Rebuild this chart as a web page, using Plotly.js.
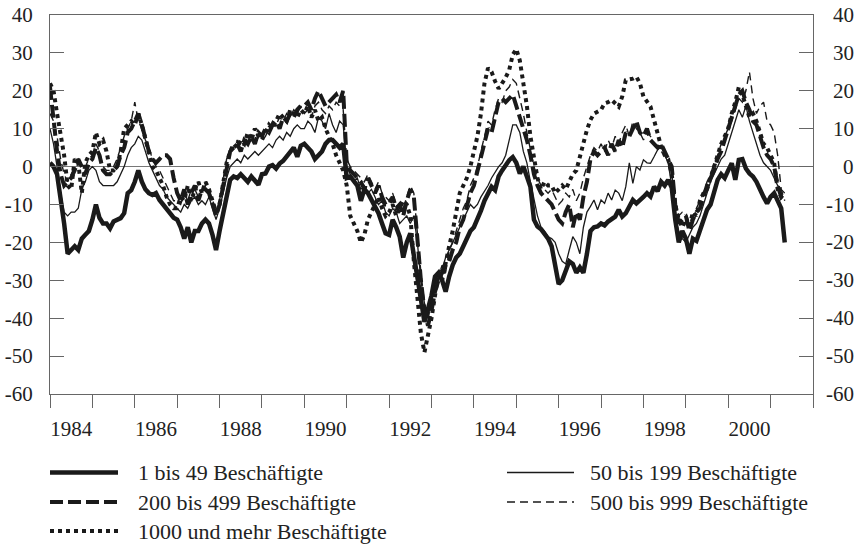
<!DOCTYPE html>
<html><head><meta charset="utf-8">
<script src="https://cdn.plot.ly/plotly-3.0.1.min.js"></script>
<style>html,body{margin:0;padding:0;background:#fff}</style>
</head><body><div id="chart" style="width:860px;height:545px"></div>
<script>
// Monthly values, January 1984 to May 2001
const startYear = 1984;
const seriesNames = ["1 bis 49 Beschäftigte", "50 bis 199 Beschäftigte", "200 bis 499 Beschäftigte", "500 bis 999 Beschäftigte", "1000 und mehr Beschäftigte"];

const s1 = [
 1, 0, -2, -8, -15, -23, -22, -21, -22, -19, -18, -17,
 -14, -10, -13.5, -15, -15, -16.3, -14.5, -14, -13.6, -12.3, -7, -6.2,
 -4, -1, -4, -6, -7, -7.5, -7, -8.8, -10, -11.4, -12.5, -13.5,
 -14, -16, -19, -16, -20, -17, -17, -15, -14, -15, -18, -22,
 -17, -12, -7, -3.5, -2.6, -3, -2, -3, -4, -2.6, -3.5, -4.8,
 -2, -1.8, 0, 0.4, -0.5, 0.8, 1.5, 2.6, 3.5, 5, 2.6, 5.5,
 6, 5, 4, 2, 3, 4, 6, 7, 7, 6, 5, 6,
 -3, -2.6, -4, -5, -9, -6, -7, -8.8, -11, -12.3, -15, -17.6,
 -18, -14, -16, -18.5, -24, -20, -17.6, -23, -28, -35, -41, -38,
 -34, -29, -28, -30, -33, -29, -26, -24, -23, -21, -19, -17,
 -16, -14, -11.6, -9, -7, -5.3, -6.2, -2.6, -1, 0.5, 1.7, 2.5,
 1, -1.8, 0, -2.6, -5.3, -14, -15.8, -16.5, -17.6, -19, -21, -26,
 -31, -30, -27, -25, -25.7, -28, -26.6, -28, -23, -17, -16, -15.8,
 -15, -15.5, -14.5, -14, -13.2, -11.4, -13.2, -12.3, -10.5, -8.8, -9.7, -9,
 -8, -7, -7.9, -5.3, -6.5, -4, -5, -3.5, -5.5, -14, -20, -17,
 -19, -23, -19, -19.6, -17, -14, -11.4, -10, -7, -3.5, -2, -3,
 -1, 0.9, -3.5, 1.8, 2, -0.5, -1.8, -2.6, -4, -6.2, -8, -9.7,
 -8, -7, -8.8, -11, -20
];
const s2 = [
 10, 6, 0, -7, -12, -13, -12, -12, -11, -6, -4, -1,
 0, -1, -4, -5, -5, -5, -5, -4, -2, 0, 3, 5,
 6, 8, 7, 4, 1, -1, -3, -5, -6, -8, -9, -10,
 -11, -12, -10, -11, -9, -8, -10, -9, -10, -8, -11, -14,
 -11, -7, -3, 0, 1, 2, 1, 3, 2, 3, 4, 3,
 4, 5, 6, 5, 7, 8, 7, 9, 8, 10, 11, 10,
 10, 12, 11, 9, 13, 12, 10, 14, 11, 9, 12, 11,
 0, -2, -4, -3, -6, -5, -7, -6, -8, -10, -9, -12,
 -13, -11, -12, -15, -14, -13, -15, -13, -20, -30, -36, -40,
 -35, -31, -28, -27, -24, -22, -20, -18, -16, -14, -12, -10,
 -11, -10, -8, -6.5, -5, -3, -1.5, 0, 1, 3, 7, 11,
 11, 9, 4, 1, -4, -9, -13, -16, -17, -18.5, -19, -20,
 -23, -25, -25.7, -22, -18.5, -20, -23, -16, -12, -10.5, -8.8, -11.4,
 -8.8, -9.7, -7, -8.8, -6.2, -7, -9, -5.3, 1, -4.4, 0, -0.9,
 1.8, 1, 0.9, 2.6, 4.4, 5.3, 3, 1, -5, -14, -17, -19,
 -20, -18, -16, -15, -13, -10, -7, -4, -2, 0, 2, 3,
 6, 9, 12, 15, 13, 16, 12, 9, 6, 3, 1, 0,
 -1, -3, -5, -6, -7
];
const s3 = [
 21, 12, 4, -2, -5, -4, -3, -1, 2, 0, -2, 1,
 2, 5, 3, -1, -2, -2, -1, 0, 3, 5, 9, 10,
 12, 14, 11, 7, 4, 2, 1, 2, 3, 3, 2, -3,
 -7, -9, -6, -10, -7, -5, -9, -6, -6, -7, -10, -13,
 -10, -5, 0, 4, 5, 6, 4, 7, 6, 8, 6, 9,
 8, 10, 9, 11, 12, 10, 13, 12, 14, 13, 15, 16,
 16, 17, 15, 18, 20, 18, 16, 17, 18, 19, 17, 20,
 1, -1, -2, -3, -4, -6, -3, -5, -7, -5, -8, -10,
 -10, -8, -11, -10, -13, -9, -6, -8, -20, -30, -38, -42,
 -38, -33, -30, -28, -26, -25, -22, -20, -16, -14, -10, -7,
 -5, -1, 3, 7, 10, 9, 13, 17, 18, 17, 18, 19,
 16, 13, 10, 7, 3, -2, -5, -7, -8, -9, -10, -12,
 -14, -15, -12, -10, -16, -12, -14, -8, -4, 2, 4, 3,
 4, 5, 3, 6, 4, 7, 5, 9, 8, 10, 12, 9,
 8, 10, 7, 6, 5, 6, 4, 2, 0, -10, -15, -14,
 -13, -17, -14, -12, -11, -8, -5, -3, -1, 2, 4, 7,
 10, 13, 16, 19, 20, 17, 15, 12, 11, 8, 5, 3,
 2, 0, -5, -8, -7
];
const s4 = [
 14, 12, 8, 2, -2, -4, -2, 0, 2, 1, 0, 2,
 3, 6, 4, 0, -1, -1, 0, 2, 5, 8, 10, 12,
 17, 12, 10, 7, 5, 2, 0, -1, -3, -5, -7, -9,
 -9, -10, -7, -9, -6, -6, -8, -6, -5, -6, -9, -11,
 -9, -3, 2, 4, 5, 7, 5, 6, 8, 7, 9, 8,
 9, 8, 10, 12, 11, 13, 12, 14, 13, 15, 14, 16,
 14, 15, 13, 16, 17, 15, 14, 16, 15, 17, 16, 15,
 2, 0, -1, -2, -3, -4, -2, -4, -6, -4, -7, -8,
 -9, -7, -10, -12, -11, -8, -5, -7, -18, -28, -36, -40,
 -36, -32, -29, -26, -28, -22, -20, -17, -14, -11, -9, -5,
 -3, 0, 4, 8, 12, 11, 15, 18, 17, 20, 21, 23,
 22, 18, 14, 9, 4, 0, -3, -5, -6, -7, -6, -8,
 -10, -9, -7, -8, -6, -9, -7, -3, 0, 3, 5, 4,
 6, 4, 7, 5, 8, 6, 9, 11, 8, 12, 10, 9,
 7, 9, 8, 6, 5, 4, 3, 1, -2, -9, -13, -12,
 -12, -15, -13, -11, -9, -7, -4, -2, 1, 3, 6, 8,
 10, 12, 15, 18, 17, 20, 25, 18, 14, 16, 17, 12,
 11, 9, 3, -6, -9
];
const s5 = [
 22, 20, 14, 8, 3, -5, -6, 2, 1, -7, 1, 3,
 4, 9, 6, 7, 4, -1, -1, 0, 4, 10, 11, 12,
 11, 14, 11, 7, 3, 0, -1, -3, -5, -8, -10, -11,
 -11, -8, -9, -5, -9, -6, -4, -7, -4, -6, -9, -12,
 -10, -4, 1, 4, 6, 5, 7, 6, 9, 7, 10, 8,
 7, 9, 11, 10, 12, 14, 13, 12, 15, 14, 13, 15,
 14, 16, 13, 15, 12, 13, 10, 8, 6, 3, 1, -1,
 -5, -13, -15, -17, -20, -18, -14, -12, -10, -8, -11, -13,
 -12, -10, -13, -11, -9, -10, -13, -25, -35, -44, -49, -45,
 -40, -34, -28, -30, -25, -21, -17, -12, -7, -5, -3, 0,
 3.5, 8, 14, 22, 26, 25, 22.5, 20.6, 22, 23.5, 25.5, 29.5,
 31, 28, 22, 16, 8, 2, -3, -6, -4, -5, -5, -7,
 -6, -5, -6, -4, -2, -1, 2.6, 6, 9.7, 12.3, 14, 14.5,
 15, 16.7, 17, 17.6, 16.7, 15.8, 18.5, 22.8, 23, 23.2, 23.7, 22,
 18.5, 17, 15.8, 12.3, 8.8, 5.3, 3, 2, -2, -10, -14, -16,
 -14, -16, -12, -13, -9, -7, -6, -3, 0, 3, 6, 8,
 10, 14, 17, 21, 19, 16, 13, 14, 12, 9, 6, 5,
 3, 1, -6, -8, -7
];

const yTicks = [40, 30, 20, 10, 0, -10, -20, -30, -40, -50, -60];
const yTickText = ["40", "30", "20", "10", "0", "-10", "-20", "-30", "-40", "-50", "-60"];
const yearTicks = [1984,1985,1986,1987,1988,1989,1990,1991,1992,1993,1994,1995,1996,1997,1998,1999,2000,2001,2002];
const yearLabels = ["1984","1986","1988","1990","1992","1994","1996","1998","2000"];

const months = s1.map((_, i) => startYear + i / 12);

const INK = '#1a1a1a';
const styles = [
  {width: 4.5, dash: 'solid'},
  {width: 1.3, dash: 'solid'},
  {width: 4, dash: '13px,5px'},
  {width: 1.4, dash: '8px,5px'},
  {width: 4, dash: '4px,4px'}
];
const allSeries = [s1, s2, s3, s4, s5];

const traces = allSeries.map((s, k) => ({
  type: 'scatter', mode: 'lines', name: seriesNames[k],
  x: months, y: s, xaxis: 'x', yaxis: 'y',
  line: {color: INK, width: styles[k].width, dash: styles[k].dash},
  showlegend: false, hoverinfo: 'skip'
}));
traces.push({type: 'scatter', x: [], y: [], xaxis: 'x2', yaxis: 'y', showlegend: false, hoverinfo: 'skip'});

const FONT = 'Liberation Serif';
const L = 50, R = 47, T = 15, B = 151, W = 860, H = 545;
const pw = W - L - R, ph = H - T - B;
const px2x = p => (p - L) / pw;
const py2y = p => (H - B - p) / ph;

const shapes = [];
const annotations = [];
yTicks.forEach((v, i) => annotations.push({
  xref: 'paper', yref: 'y', x: px2x(856), y: v, xanchor: 'right', yanchor: 'middle',
  text: yTickText[i], showarrow: false, font: {family: FONT, size: 21, color: '#222'}
}));
const legPos = [
  {x0: 50, x1: 118, tx: 136, y: 472.5},
  {x0: 507, x1: 574, tx: 588, y: 472.5},
  {x0: 50, x1: 118, tx: 136, y: 502},
  {x0: 507, x1: 574, tx: 588, y: 502},
  {x0: 50, x1: 118, tx: 136, y: 531}
];
seriesNames.forEach((nm, k) => {
  const p = legPos[k];
  shapes.push({type: 'line', xref: 'paper', yref: 'paper',
    x0: px2x(p.x0), x1: px2x(p.x1), y0: py2y(p.y), y1: py2y(p.y),
    line: {color: INK, width: styles[k].width, dash: styles[k].dash}});
  annotations.push({xref: 'paper', yref: 'paper', x: px2x(p.tx), y: py2y(p.y),
    xanchor: 'left', yanchor: 'middle', text: nm, showarrow: false,
    font: {family: FONT, size: 22, color: '#222'}});
});

const layout = {
  width: W, height: H,
  margin: {l: L, r: R, t: T, b: B, pad: 0},
  paper_bgcolor: '#fff', plot_bgcolor: '#fff',
  font: {family: FONT, size: 21, color: '#222'},
  showlegend: false,
  xaxis: {
    range: [1984, 2002], tickmode: 'array', tickvals: yearTicks,
    showticklabels: false, ticks: 'outside', ticklen: 13, tickwidth: 1, tickcolor: '#666',
    showline: true, linecolor: '#666', linewidth: 1, mirror: true,
    showgrid: false, zeroline: false
  },
  xaxis2: {
    overlaying: 'x', anchor: 'y', side: 'bottom', range: [1984, 2002],
    tickmode: 'array', tickvals: yearLabels.map(s => Number(s) + 0.5), ticktext: yearLabels,
    ticks: 'outside', ticklen: 16, tickcolor: 'rgba(0,0,0,0)',
    showline: false, showgrid: false, zeroline: false,
    tickfont: {family: FONT, size: 21, color: '#222'}
  },
  yaxis: {
    range: [-60, 40], tickmode: 'array', tickvals: yTicks, ticktext: yTickText,
    ticks: 'inside', ticklen: 14, tickwidth: 1, tickcolor: '#666',
    showline: true, linecolor: '#666', linewidth: 1, mirror: 'ticks',
    showgrid: false, zeroline: true, zerolinecolor: '#777', zerolinewidth: 1,
    ticklabelstandoff: 12,
    tickfont: {family: FONT, size: 21, color: '#222'}
  },
  shapes: shapes,
  annotations: annotations
};

Plotly.newPlot('chart', traces, layout, {staticPlot: true, displayModeBar: false});
</script>
</body></html>
